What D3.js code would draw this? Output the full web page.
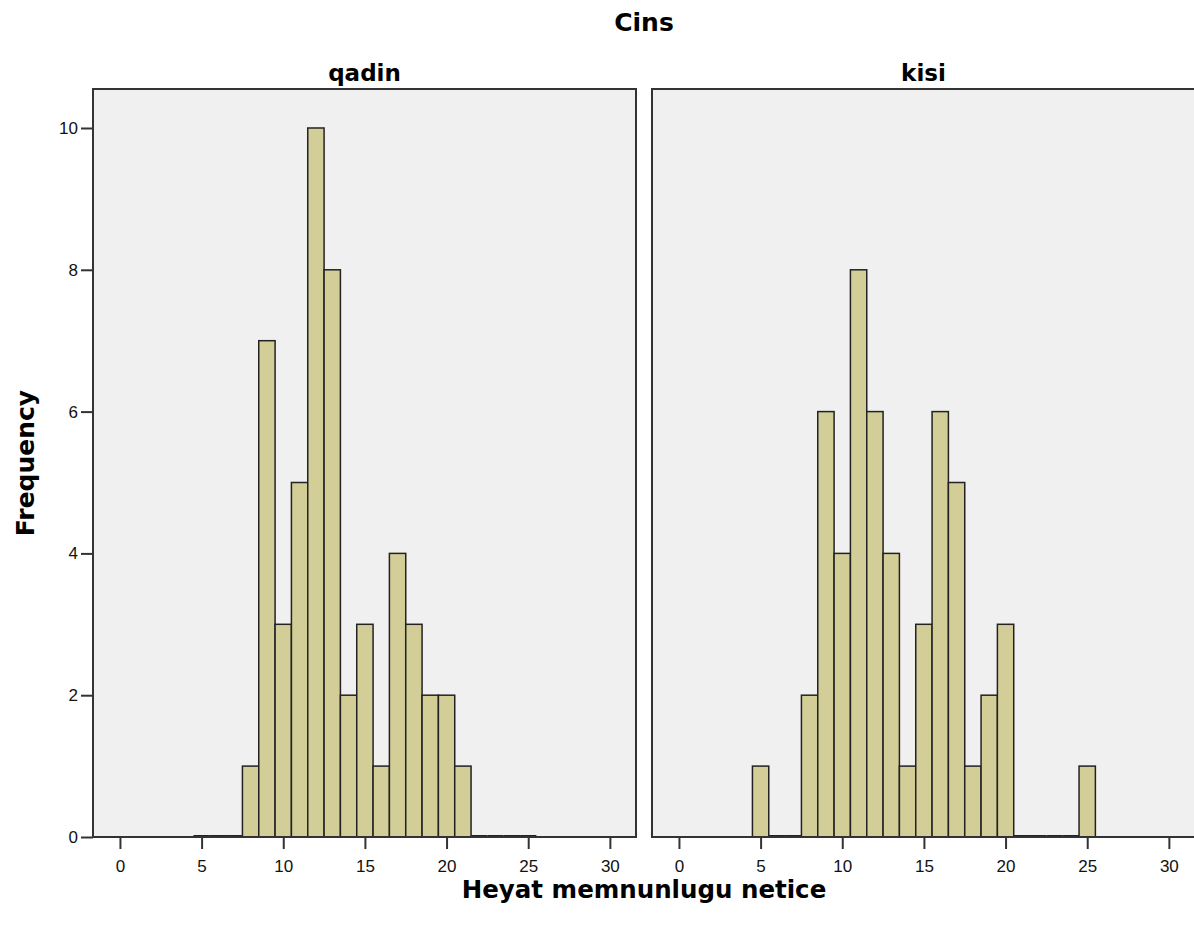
<!DOCTYPE html>
<html>
<head>
<meta charset="utf-8">
<script src="https://cdn.jsdelivr.net/npm/d3@7"></script>
<style>
    body { margin: 0; background: #fff; }
    svg text { font-family: "Liberation Sans", Arial, sans-serif; fill: #000; }
    svg text.title { font-family: "DejaVu Sans", Verdana, sans-serif; font-weight: bold; }
</style>
</head>
<body>
<svg id="chart" width="1194" height="939"></svg>
<script>
// Histogram data: score bins (centred on integers) and counts per panel
const bins = [5, 6, 7, 8, 9, 10, 11, 12, 13, 14, 15, 16, 17, 18, 19, 20, 21, 22, 23, 24, 25];
const qadinCounts = [0, 0, 0, 1, 7, 3, 5, 10, 8, 2, 3, 1, 4, 3, 2, 2, 1, 0, 0, 0, 0];
const kisiCounts = [1, 0, 0, 2, 6, 4, 8, 6, 4, 1, 3, 6, 5, 1, 2, 3, 0, 0, 0, 0, 1];
const panelNames = ['qadin', 'kisi'];
const xTicks = [0, 5, 10, 15, 20, 25, 30];
const yTicks = [0, 2, 4, 6, 8, 10];

const panels = [
    { name: panelNames[0], counts: qadinCounts, left: 93 },
    { name: panelNames[1], counts: kisiCounts, left: 652 }
];

/**
 * Visual configs.
 */
const panelWidth = 543,
    plotTop = 89,
    plotBottom = 837,
    barFill = '#d3ce97',
    panelFill = '#f0f0f0',
    lineColor = '#333';

const svg = d3.select('#chart');

const y = d3.scaleLinear().domain([0, 10.55]).range([plotBottom, plotTop]);

panels.forEach((p, pi) => {
    const x = d3.scaleLinear().domain([-1.65, 31.6]).range([p.left, p.left + panelWidth]);
    const g = svg.append('g').attr('class', 'panel');

    // Background
    g.append('rect')
        .attr('x', p.left).attr('y', plotTop)
        .attr('width', panelWidth).attr('height', plotBottom - plotTop)
        .style('fill', panelFill)
        .style('stroke', lineColor)
        .style('stroke-width', 2);

    // Bars
    const data = bins.map((b, i) => ({ bin: b, value: p.counts[i] }));
    g.selectAll('.bar').data(data.filter(d => d.value > 0))
        .enter().append('rect').attr('class', 'bar')
            .attr('x', d => x(d.bin - 0.5))
            .attr('y', d => y(d.value))
            .attr('width', d => x(d.bin + 0.5) - x(d.bin - 0.5))
            .attr('height', d => y(0) - y(d.value))
            .style('fill', barFill)
            .style('stroke', '#222')
            .style('stroke-width', 1.5);

    // Empty bins drawn as a line on the baseline
    g.selectAll('.empty').data(data.filter(d => d.value === 0))
        .enter().append('line').attr('class', 'empty')
            .attr('x1', d => x(d.bin - 0.5))
            .attr('x2', d => x(d.bin + 0.5))
            .attr('y1', y(0) - 1).attr('y2', y(0) - 1)
            .style('stroke', '#222')
            .style('stroke-width', 2);

    // X axis
    const xAxis = g.append('g').attr('transform', 'translate(0,' + plotBottom + ')')
        .call(d3.axisBottom(x).tickValues(xTicks).tickSize(12).tickPadding(11));
    xAxis.select('.domain').remove();
    xAxis.selectAll('.tick line').style('stroke', lineColor).style('stroke-width', 2);
    xAxis.selectAll('.tick text').style('font-size', '17px').style('fill', '#111');

    g.append('line')
        .attr('x1', p.left).attr('x2', p.left + panelWidth)
        .attr('y1', plotBottom).attr('y2', plotBottom)
        .style('stroke', lineColor).style('stroke-width', 2);

    // Y axis on the first panel only
    if (pi === 0) {
        const yAxis = g.append('g').attr('transform', 'translate(' + p.left + ',0)')
            .call(d3.axisLeft(y).tickValues(yTicks).tickSize(12).tickPadding(3));
        yAxis.select('.domain').remove();
        yAxis.selectAll('.tick line').style('stroke', lineColor).style('stroke-width', 2);
        yAxis.selectAll('.tick text').style('font-size', '17px').style('fill', '#111');
    }

    // Panel label
    g.append('text').attr('class', 'title')
        .attr('x', p.left + panelWidth / 2).attr('y', 81)
        .attr('text-anchor', 'middle')
        .style('font-size', '23px')
        .text(p.name);
});

// Titles
svg.append('text').attr('class', 'title')
    .attr('x', 644).attr('y', 31)
    .attr('text-anchor', 'middle')
    .style('font-size', '25px')
    .text('Cins');

svg.append('text').attr('class', 'title')
    .attr('x', 644).attr('y', 898)
    .attr('text-anchor', 'middle')
    .style('font-size', '24.5px')
    .text('Heyat memnunlugu netice');

svg.append('text').attr('class', 'title')
    .attr('transform', 'translate(34,463) rotate(-90)')
    .attr('text-anchor', 'middle')
    .style('font-size', '25px')
    .text('Frequency');
</script>
</body>
</html>
